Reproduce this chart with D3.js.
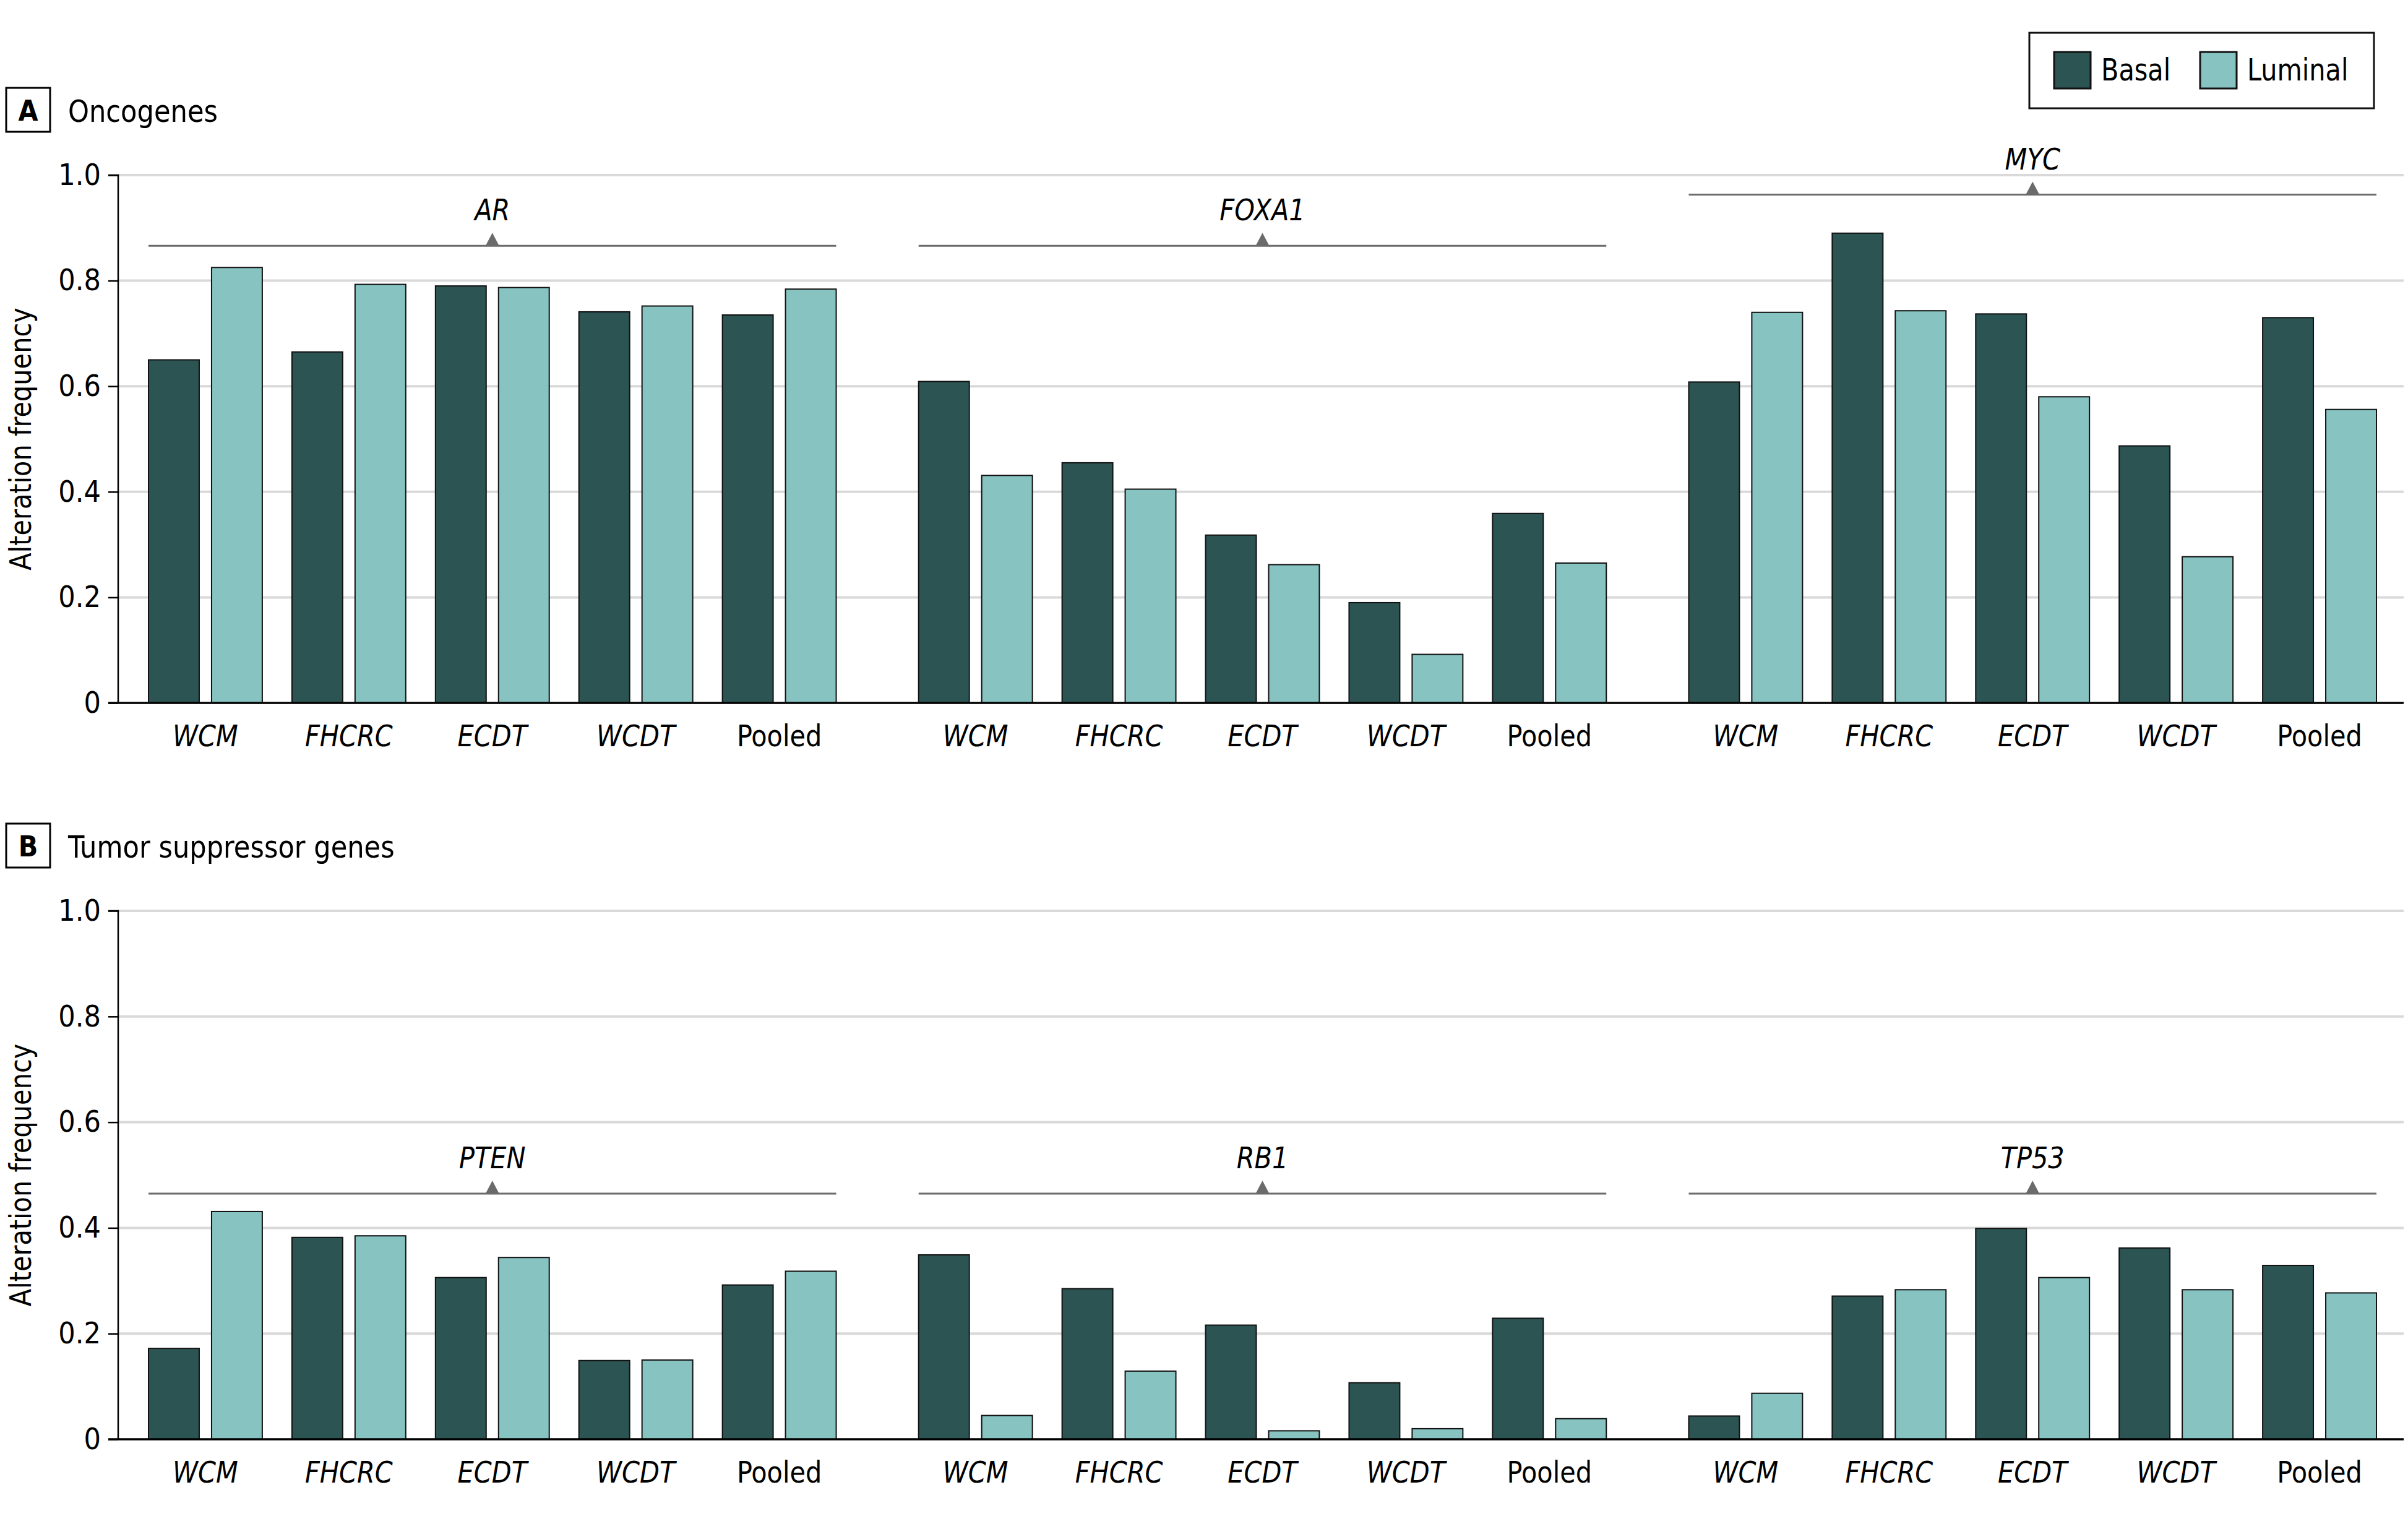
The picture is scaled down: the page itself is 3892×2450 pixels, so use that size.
<!DOCTYPE html>
<html>
<head>
<meta charset="utf-8">
<script src="https://cdn.jsdelivr.net/npm/d3@7"></script>
<style>
  html, body { margin: 0; padding: 0; background: #fff; }
  svg text { font-family: "Liberation Sans Narrow", "DejaVu Sans Condensed", "Roboto Condensed", "Liberation Sans", sans-serif; }
</style>
</head>
<body>
<svg id="chart" width="3892" height="2450"></svg>
<script>
// ---------- data ----------
const sites = ["WCM", "FHCRC", "ECDT", "WCDT", "Pooled"];
const subtypes = ["Basal", "Luminal"];
const oncogenes = ["AR", "FOXA1", "MYC"];
const suppressorGenes = ["PTEN", "RB1", "TP53"];
const yTicks = [0, 0.2, 0.4, 0.6, 0.8, 1.0];
const yTickLabels = ["0", "0.2", "0.4", "0.6", "0.8", "1.0"];

// Oncogenes (panel A)
const AR_basal      = [0.650, 0.665, 0.790, 0.741, 0.735];
const AR_luminal    = [0.825, 0.793, 0.787, 0.752, 0.784];
const FOXA1_basal   = [0.609, 0.455, 0.318, 0.190, 0.359];
const FOXA1_luminal = [0.431, 0.405, 0.262, 0.092, 0.265];
const MYC_basal     = [0.608, 0.890, 0.737, 0.487, 0.730];
const MYC_luminal   = [0.740, 0.743, 0.580, 0.277, 0.556];

// Tumor suppressor genes (panel B)
const PTEN_basal    = [0.172, 0.382, 0.306, 0.149, 0.292];
const PTEN_luminal  = [0.431, 0.385, 0.344, 0.150, 0.318];
const RB1_basal     = [0.349, 0.285, 0.216, 0.107, 0.229];
const RB1_luminal   = [0.045, 0.129, 0.016, 0.020, 0.039];
const TP53_basal    = [0.044, 0.271, 0.399, 0.362, 0.329];
const TP53_luminal  = [0.087, 0.283, 0.306, 0.283, 0.277];

// Bracket levels (in data units) over each gene group
const bracketLevelsA = [0.866, 0.866, 0.963];
const bracketLevelsB = [0.465, 0.465, 0.465];

const panels = [
  { letter: "A", title: "Oncogenes", genes: oncogenes,
    values: { AR: [AR_basal, AR_luminal], FOXA1: [FOXA1_basal, FOXA1_luminal], MYC: [MYC_basal, MYC_luminal] },
    brackets: bracketLevelsA },
  { letter: "B", title: "Tumor suppressor genes", genes: suppressorGenes,
    values: { PTEN: [PTEN_basal, PTEN_luminal], RB1: [RB1_basal, RB1_luminal], TP53: [TP53_basal, TP53_luminal] },
    brackets: bracketLevelsB }
];

// ---------- style ----------
const colors = { Basal: "#2b5453", Luminal: "#86c3c1" };
const FS = 48;

const svg = d3.select("#chart");
svg.append("rect").attr("width", 3892).attr("height", 2450).attr("fill", "#fff");

const axisX = 191, rightEnd = 3885;
const geneScale = d3.scaleBand().domain([0, 1, 2]).range([240, 3841]).paddingInner(0.107).paddingOuter(0);
const siteScale = d3.scaleBand().domain(sites).range([0, geneScale.bandwidth()]).paddingInner(0.207).paddingOuter(0);
const subScale = d3.scaleBand().domain(subtypes).range([0, siteScale.bandwidth()]).paddingInner(0.196).paddingOuter(0);

const panelTops = [283, 1472];
const panelBottoms = [1136, 2326];
const labelTops = [142, 1331];

panels.forEach((p, pi) => {
  const y = d3.scaleLinear().domain([0, 1]).range([panelBottoms[pi], panelTops[pi]]);
  const g = svg.append("g");

  // panel label
  g.append("rect").attr("x", 10).attr("y", labelTops[pi]).attr("width", 71).attr("height", 71)
    .attr("fill", "#fff").attr("stroke", "#000").attr("stroke-width", 3);
  g.append("text").attr("x", 45.5).attr("y", labelTops[pi] + 53).attr("text-anchor", "middle")
    .attr("font-weight", "bold").attr("font-size", 46).text(p.letter);
  g.append("text").attr("class", "squeeze").attr("x", 110).attr("y", labelTops[pi] + 55).attr("font-size", 50).text(p.title);

  // gridlines
  g.append("g").selectAll("line").data(yTicks.filter(d => d > 0)).join("line")
    .attr("x1", axisX).attr("x2", rightEnd)
    .attr("y1", d => y(d)).attr("y2", d => y(d))
    .attr("stroke", "#d9d9d9").attr("stroke-width", 4);

  // y axis
  const yAxis = d3.axisLeft(y).tickValues(yTicks).tickFormat((d, i) => yTickLabels[i]).tickSize(16).tickPadding(12);
  const ya = g.append("g").attr("transform", `translate(${axisX},0)`).call(yAxis);
  ya.select(".domain").attr("stroke", "#000").attr("stroke-width", 2.5).attr("d", `M-16,${y(1)}H0V${y(0)}`);
  ya.selectAll(".tick line").attr("stroke", "#000").attr("stroke-width", 2.5);
  ya.selectAll(".tick text").attr("font-size", FS).attr("fill", "#000")
    .style("font-family", '"Liberation Sans Narrow", "DejaVu Sans Condensed", "Liberation Sans", sans-serif');

  // y title
  g.append("text").attr("class", "squeeze")
    .attr("transform", `translate(50,${(y(0) + y(1)) / 2}) rotate(-90)`)
    .attr("text-anchor", "middle").attr("font-size", FS).text("Alteration frequency");

  // bars
  p.genes.forEach((gene, gi) => {
    const gx = geneScale(gi);
    const gg = g.append("g").attr("transform", `translate(${gx},0)`);
    const rows = [];
    sites.forEach((s, si) => subtypes.forEach((st, ti) => rows.push({ site: s, sub: st, v: p.values[gene][ti][si] })));
    gg.selectAll("rect.bar").data(rows).join("rect").attr("class", "bar")
      .attr("x", d => siteScale(d.site) + subScale(d.sub))
      .attr("width", subScale.bandwidth())
      .attr("y", d => y(d.v))
      .attr("height", d => y(0) - y(d.v))
      .attr("fill", d => colors[d.sub])
      .attr("stroke", "#111").attr("stroke-width", 2);

    // x labels
    gg.selectAll("text.site").data(sites).join("text").attr("class", "site squeeze")
      .attr("x", d => siteScale(d) + siteScale.bandwidth() / 2)
      .attr("y", y(0) + 70)
      .attr("text-anchor", "middle").attr("font-size", FS)
      .attr("font-style", d => d === "Pooled" ? "normal" : "italic")
      .text(d => d);

    // bracket
    const by = y(p.brackets[gi]);
    const cx = geneScale.bandwidth() / 2;
    gg.append("line").attr("x1", 0).attr("x2", geneScale.bandwidth())
      .attr("y1", by).attr("y2", by).attr("stroke", "#6b6b6b").attr("stroke-width", 3);
    gg.append("path").attr("d", `M${cx - 11},${by}L${cx},${by - 21}L${cx + 11},${by}Z`).attr("fill", "#6b6b6b");
    gg.append("text").attr("class", "squeeze").attr("x", cx).attr("y", by - 41).attr("text-anchor", "middle")
      .attr("font-size", FS).attr("font-style", "italic").text(gene);
  });

  // baseline
  g.append("line").attr("x1", axisX - 16).attr("x2", rightEnd).attr("y1", y(0)).attr("y2", y(0))
    .attr("stroke", "#000").attr("stroke-width", 3.5);
});

// legend
const lg = svg.append("g");
lg.append("rect").attr("x", 3280).attr("y", 53).attr("width", 557).attr("height", 122)
  .attr("fill", "#fff").attr("stroke", "#111").attr("stroke-width", 3);
const legendX = [3320, 3556];
subtypes.forEach((st, i) => {
  lg.append("rect").attr("x", legendX[i]).attr("y", 84).attr("width", 59).attr("height", 59)
    .attr("fill", colors[st]).attr("stroke", "#111").attr("stroke-width", 3);
  lg.append("text").attr("class", "legend-text").attr("x", legendX[i] + 76).attr("y", 130).attr("font-size", 50).text(st);
});

// slightly condense text widths to match the narrow typeface of the original
svg.selectAll("text.squeeze").each(function () {
  const len = this.getComputedTextLength();
  d3.select(this).attr("textLength", len * 0.96).attr("lengthAdjust", "spacingAndGlyphs");
});
svg.selectAll("text.legend-text").each(function () {
  const len = this.getComputedTextLength();
  d3.select(this).attr("textLength", len * 0.92).attr("lengthAdjust", "spacingAndGlyphs");
});
</script>
</body>
</html>
